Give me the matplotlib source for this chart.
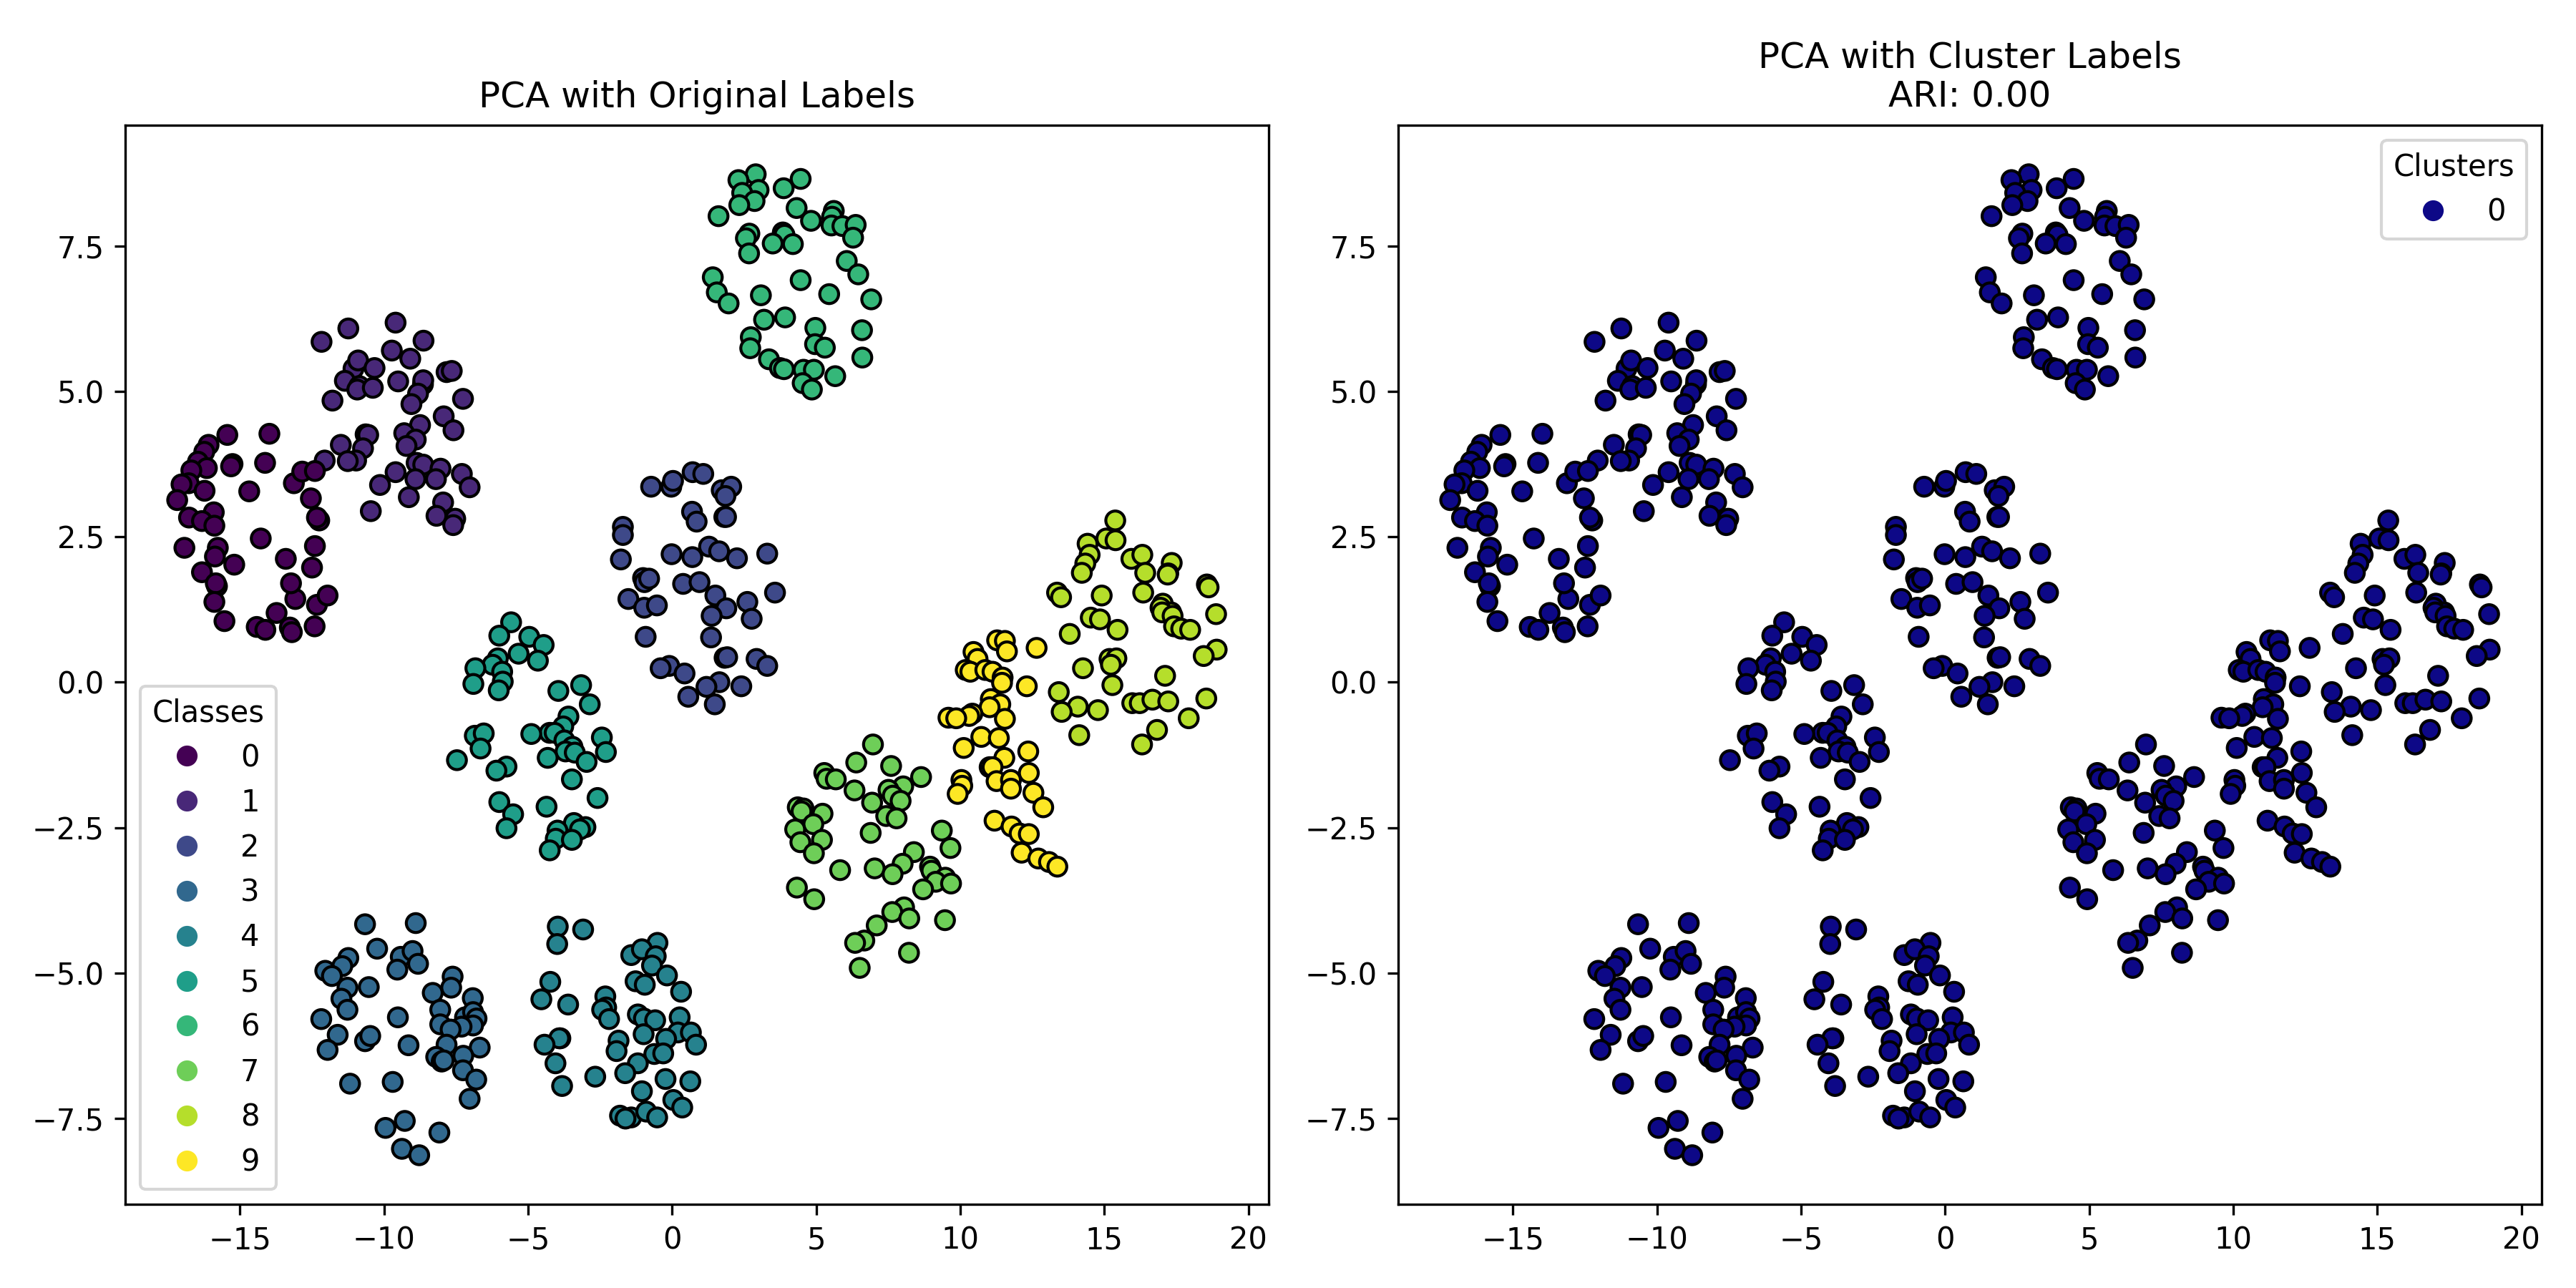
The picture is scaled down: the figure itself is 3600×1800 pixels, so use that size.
import numpy as np
import matplotlib
matplotlib.use("Agg")
import matplotlib.pyplot as plt

class_0 = [(-15.44,4.25),(-13.98,4.27),(-16.09,4.08),(-16.24,3.96),(-16.46,3.79),(-16.15,3.68),(-16.69,3.64),(-15.26,3.75),(-15.31,3.71),(-14.13,3.77),(-16.78,3.42),(-17.03,3.40),(-16.23,3.29),(-14.68,3.28),(-17.18,3.13),(-16.77,2.83),(-15.91,2.92),(-16.32,2.77),(-15.89,2.69),(-16.93,2.31),(-15.77,2.31),(-15.87,2.16),(-15.20,2.02),(-16.32,1.89),(-15.80,1.65),(-15.84,1.70),(-15.89,1.38),(-15.54,1.05),(-14.42,0.95),(-14.12,0.90),(-13.73,1.19),(-13.27,0.94),(-13.20,0.86),(-12.41,0.96),(-12.33,1.33),(-11.96,1.49),(-13.08,1.43),(-13.23,1.70),(-12.50,1.97),(-12.40,2.34),(-13.41,2.12),(-14.28,2.47),(-12.25,2.78),(-12.33,2.83),(-12.54,3.16),(-13.13,3.42),(-12.84,3.62),(-12.40,3.63)]
class_1 = [(-9.60,6.18),(-11.24,6.08),(-12.17,5.85),(-8.63,5.87),(-9.73,5.70),(-9.09,5.56),(-11.06,5.39),(-10.90,5.53),(-10.33,5.40),(-7.83,5.33),(-7.65,5.35),(-9.51,5.17),(-8.65,5.12),(-8.64,5.19),(-8.82,4.96),(-11.36,5.18),(-10.86,5.09),(-10.93,5.03),(-10.39,5.06),(-11.79,4.84),(-9.05,4.78),(-7.26,4.87),(-7.93,4.57),(-8.75,4.42),(-7.59,4.33),(-9.30,4.28),(-8.90,4.17),(-9.22,4.06),(-10.64,4.26),(-10.55,4.25),(-10.73,4.02),(-11.50,4.08),(-12.06,3.81),(-10.97,3.81),(-11.26,3.80),(-8.87,3.77),(-8.64,3.74),(-8.04,3.67),(-9.60,3.61),(-7.30,3.58),(-8.91,3.49),(-8.20,3.49),(-10.14,3.39),(-7.03,3.35),(-9.14,3.18),(-7.95,3.09),(-10.46,2.94),(-8.18,2.86),(-7.53,2.81),(-7.60,2.70)]
class_2 = [(-0.73,3.36),(-0.03,3.36),(0.03,3.46),(0.71,3.61),(1.08,3.58),(1.72,3.30),(2.05,3.36),(1.85,3.20),(0.69,2.93),(0.85,2.76),(1.81,2.84),(1.87,2.84),(-1.71,2.67),(-1.71,2.53),(-1.78,2.11),(-0.02,2.20),(0.70,2.15),(1.28,2.33),(1.63,2.25),(2.25,2.13),(3.30,2.21),(-1.01,1.79),(-0.96,1.72),(-0.80,1.78),(0.38,1.69),(0.95,1.72),(1.50,1.49),(3.57,1.54),(-1.52,1.43),(-0.97,1.28),(-0.53,1.32),(1.88,1.27),(2.61,1.38),(1.37,1.14),(2.76,1.09),(-0.92,0.78),(1.35,0.77),(1.82,0.42),(1.91,0.43),(2.93,0.40),(3.30,0.28),(-0.10,0.28),(-0.40,0.24),(0.43,0.15),(1.64,0.00),(1.19,-0.08),(2.40,-0.07),(0.56,-0.25),(1.48,-0.38)]
class_3 = [(-10.66,-4.16),(-8.90,-4.14),(-10.24,-4.58),(-11.24,-4.74),(-11.45,-4.88),(-12.04,-4.96),(-11.81,-5.05),(-9.42,-4.72),(-9.01,-4.62),(-8.82,-4.84),(-9.54,-4.94),(-11.27,-5.25),(-10.53,-5.24),(-11.48,-5.44),(-11.27,-5.63),(-7.62,-5.06),(-7.67,-5.25),(-8.31,-5.34),(-6.92,-5.43),(-8.05,-5.63),(-9.52,-5.76),(-12.18,-5.79),(-8.05,-5.88),(-7.19,-5.76),(-6.91,-5.67),(-6.79,-5.78),(-6.91,-5.90),(-7.31,-5.92),(-7.69,-5.97),(-11.61,-6.06),(-10.66,-6.17),(-10.48,-6.08),(-9.15,-6.24),(-11.96,-6.32),(-7.83,-6.23),(-6.68,-6.28),(-8.19,-6.44),(-8.00,-6.52),(-7.93,-6.50),(-7.25,-6.42),(-7.26,-6.67),(-6.80,-6.83),(-11.18,-6.90),(-9.70,-6.87),(-7.03,-7.16),(-9.28,-7.54),(-9.95,-7.66),(-8.08,-7.74),(-9.38,-8.02),(-8.78,-8.13)]
class_4 = [(-3.97,-4.20),(-3.09,-4.25),(-3.99,-4.50),(-4.23,-5.15),(-4.54,-5.45),(-3.61,-5.54),(-2.32,-5.40),(-2.29,-5.59),(-2.43,-5.63),(-2.19,-5.79),(-3.88,-6.12),(-3.92,-6.12),(-4.43,-6.23),(-1.86,-6.16),(-1.93,-6.34),(-4.05,-6.55),(-2.67,-6.78),(-3.82,-6.94),(-0.51,-4.48),(-1.42,-4.69),(-1.05,-4.59),(-0.57,-4.71),(-0.70,-4.87),(-0.18,-5.04),(-1.27,-5.14),(-0.95,-5.20),(0.31,-5.32),(-1.19,-5.71),(-0.98,-5.78),(-0.59,-5.81),(0.26,-5.76),(0.20,-6.02),(0.65,-6.02),(0.83,-6.23),(-0.99,-6.05),(-0.21,-6.13),(-0.62,-6.39),(-0.31,-6.38),(-1.19,-6.55),(-1.63,-6.72),(-0.23,-6.82),(0.63,-6.86),(-1.05,-7.03),(0.04,-7.18),(0.35,-7.31),(-1.81,-7.45),(-1.42,-7.48),(-1.62,-7.50),(-0.90,-7.38),(-0.52,-7.48)]
class_5 = [(-5.59,1.03),(-6.00,0.80),(-4.96,0.78),(-4.46,0.64),(-5.33,0.49),(-4.66,0.37),(-6.05,0.41),(-6.23,0.30),(-6.83,0.24),(-5.90,0.18),(-5.88,0.01),(-6.90,-0.03),(-6.02,-0.14),(-3.95,-0.15),(-3.16,-0.05),(-2.86,-0.38),(-3.60,-0.59),(-3.78,-0.76),(-4.25,-0.87),(-4.08,-0.87),(-4.89,-0.89),(-3.74,-1.00),(-3.46,-1.11),(-3.70,-1.19),(-3.38,-1.21),(-4.32,-1.30),(-2.97,-1.37),(-2.44,-0.95),(-2.30,-1.20),(-3.48,-1.67),(-6.85,-0.92),(-6.54,-0.88),(-6.65,-1.14),(-7.47,-1.34),(-5.75,-1.45),(-6.10,-1.52),(-6.00,-2.06),(-4.36,-2.14),(-2.59,-1.99),(-5.52,-2.27),(-5.75,-2.51),(-3.41,-2.42),(-3.01,-2.49),(-3.20,-2.53),(-3.98,-2.55),(-4.04,-2.69),(-3.48,-2.71),(-4.25,-2.89)]
class_6 = [(2.90,8.73),(2.30,8.63),(4.46,8.65),(3.87,8.49),(3.00,8.46),(2.43,8.41),(2.86,8.27),(2.33,8.20),(4.32,8.15),(1.61,8.01),(4.82,7.93),(5.61,8.10),(5.55,8.00),(5.53,7.85),(5.91,7.84),(6.37,7.86),(6.28,7.64),(2.68,7.71),(2.56,7.63),(3.84,7.73),(3.90,7.69),(3.49,7.54),(4.19,7.53),(2.67,7.37),(6.06,7.24),(6.46,7.01),(1.41,6.96),(4.46,6.91),(1.55,6.70),(3.08,6.65),(5.45,6.67),(6.91,6.58),(1.96,6.51),(3.19,6.23),(3.92,6.27),(4.97,6.09),(6.59,6.05),(2.73,5.93),(2.71,5.74),(4.96,5.81),(5.30,5.75),(3.36,5.55),(3.74,5.40),(3.88,5.38),(6.60,5.58),(4.56,5.37),(4.92,5.37),(4.53,5.14),(5.66,5.26),(4.85,5.03)]
class_7 = [(6.97,-1.07),(6.39,-1.38),(7.60,-1.44),(5.28,-1.56),(5.36,-1.66),(5.68,-1.67),(8.64,-1.63),(6.33,-1.86),(8.02,-1.79),(7.51,-1.85),(7.66,-1.95),(7.93,-2.04),(6.94,-2.07),(4.36,-2.15),(4.56,-2.17),(4.49,-2.22),(5.22,-2.26),(7.43,-2.30),(7.79,-2.34),(4.90,-2.44),(4.27,-2.53),(4.45,-2.75),(5.20,-2.71),(6.89,-2.59),(9.36,-2.55),(9.66,-2.85),(4.92,-2.94),(8.39,-2.92),(8.00,-3.12),(5.83,-3.23),(7.03,-3.20),(7.65,-3.30),(8.95,-3.17),(9.00,-3.24),(9.48,-3.36),(9.15,-3.43),(9.68,-3.46),(8.71,-3.56),(4.33,-3.53),(4.93,-3.73),(8.05,-3.87),(7.64,-3.95),(8.23,-4.06),(9.47,-4.09),(7.10,-4.18),(6.67,-4.44),(6.35,-4.48),(8.22,-4.65),(6.51,-4.91)]
class_8 = [(15.38,2.78),(15.07,2.47),(15.39,2.44),(14.42,2.38),(14.49,2.19),(14.34,2.04),(14.22,1.88),(15.94,2.12),(16.32,2.19),(16.42,1.88),(17.34,2.05),(17.22,1.87),(17.20,1.85),(18.56,1.68),(18.62,1.63),(13.36,1.54),(13.50,1.46),(14.91,1.49),(16.35,1.54),(17.03,1.35),(16.95,1.28),(17.32,1.20),(17.01,1.20),(17.37,1.14),(17.42,0.96),(17.67,0.92),(17.98,0.90),(18.88,1.17),(14.53,1.11),(14.85,1.08),(15.46,0.90),(13.80,0.83),(18.90,0.56),(18.45,0.45),(15.18,0.40),(15.42,0.41),(15.23,0.30),(14.26,0.24),(17.11,0.11),(15.28,-0.05),(13.42,-0.17),(14.08,-0.42),(13.52,-0.51),(14.78,-0.48),(15.97,-0.36),(16.23,-0.36),(16.67,-0.30),(17.22,-0.33),(18.54,-0.28),(17.93,-0.62),(16.83,-0.82),(16.31,-1.07),(14.13,-0.91)]
class_9 = [(11.28,0.72),(11.55,0.71),(11.62,0.53),(12.65,0.59),(10.46,0.52),(10.60,0.40),(10.19,0.21),(10.35,0.18),(10.87,0.21),(11.12,0.18),(11.47,0.08),(11.45,-0.01),(12.31,-0.07),(11.06,-0.29),(11.39,-0.38),(11.02,-0.43),(10.42,-0.54),(10.31,-0.58),(9.59,-0.61),(9.86,-0.62),(11.55,-0.63),(10.73,-0.94),(11.34,-0.96),(10.12,-1.13),(12.36,-1.19),(11.53,-1.30),(11.02,-1.46),(11.12,-1.46),(12.38,-1.56),(11.26,-1.70),(11.76,-1.68),(11.76,-1.83),(10.04,-1.68),(10.07,-1.78),(9.91,-1.92),(12.54,-1.90),(12.88,-2.15),(11.19,-2.38),(11.78,-2.48),(12.06,-2.60),(12.38,-2.61),(12.13,-2.93),(12.71,-3.03),(13.08,-3.09),(13.37,-3.17)]

classes = [class_0, class_1, class_2, class_3, class_4, class_5, class_6, class_7, class_8, class_9]

# later classes are drawn first, so lower classes lie on top where they touch
xs, ys, labels = [], [], []
for label in reversed(range(len(classes))):
    for px, py in classes[label]:
        xs.append(px)
        ys.append(py)
        labels.append(label)
xs = np.array(xs)
ys = np.array(ys)
labels = np.array(labels)
clusters = np.zeros_like(labels)

fig, (ax1, ax2) = plt.subplots(1, 2, figsize=(12, 6), dpi=300)

sc1 = ax1.scatter(xs, ys, c=labels, cmap="viridis", edgecolor="k", s=40, linewidths=1.0)
ax1.set_title("PCA with Original Labels")
h1, _ = sc1.legend_elements()
ax1.legend(h1, [str(i) for i in range(10)], title="Classes", loc="lower left")

sc2 = ax2.scatter(xs, ys, c=clusters, cmap="plasma", edgecolor="k", s=40, linewidths=1.0)
ax2.set_title("PCA with Cluster Labels\nARI: 0.00")
h2, _ = sc2.legend_elements()
ax2.legend(h2, ["0"], title="Clusters", loc="upper right")

fig.subplots_adjust(left=175/3600, right=3552/3600, top=1-175/1800, bottom=1-1683/1800, wspace=181/1597)
fig.savefig("out.png", dpi=300)
